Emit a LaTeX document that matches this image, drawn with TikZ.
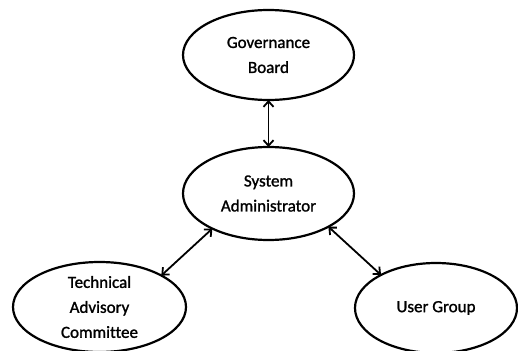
\documentclass[tikz,border=0pt]{standalone}
\usepackage{fontspec}
\setmainfont{Carlito}
\newfontfamily\heavyfont{Carlito}[FakeBold=1.3,Ligatures=NoCommon]
\usetikzlibrary{shapes.geometric,arrows.meta}
\begin{document}
\begin{tikzpicture}[x=1pt,y=-1pt,
  bubble/.style={draw, ellipse, line width=2.2pt, inner sep=0pt, outer sep=0pt,
    align=center, font=\heavyfont\fontsize{17}{25}\selectfont},
  link/.style={line width=1.8pt, {Straight Barb[length=5.5pt,width=10pt]}-{Straight Barb[length=5.5pt,width=10pt]}}]
\useasboundingbox (0,0) rectangle (518,350);
\node[bubble, minimum width=171pt, minimum height=90pt] (gb) at (268.5,55) {Governance\\Board};
\node[bubble, minimum width=171pt, minimum height=93pt] (sa) at (268.5,193.5) {System\\Administrator};
\node[bubble, minimum width=173pt, minimum height=90pt] (tac) at (99.5,307) {Technical\\Advisory\\Committee};
\node[bubble, minimum width=162pt, minimum height=90pt] (ug) at (436,308) {User Group};
\draw[link] (gb.south) -- (sa.north);
\draw[link] (tac.27) -- (sa.212);
\draw[link] (ug.149.5) -- (sa.331);
\end{tikzpicture}
\end{document}
